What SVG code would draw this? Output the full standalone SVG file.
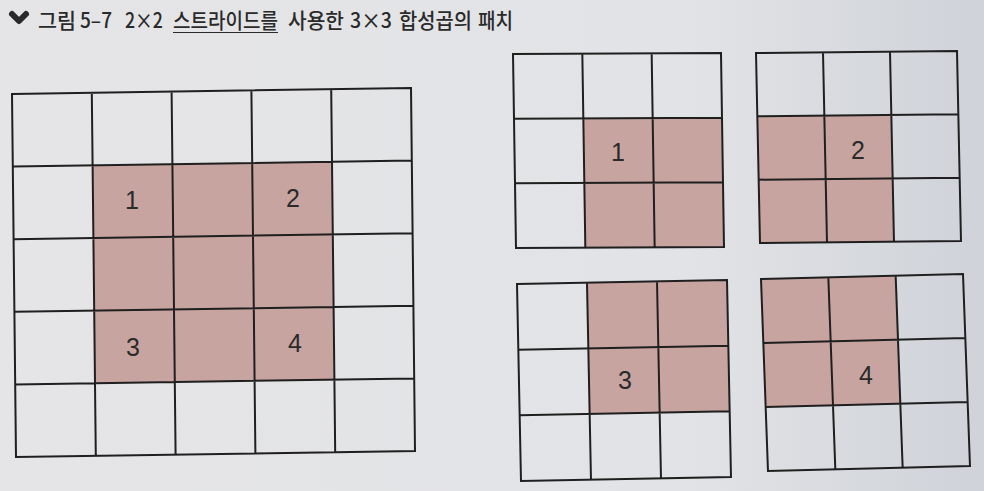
<svg xmlns="http://www.w3.org/2000/svg" width="984" height="491" viewBox="0 0 984 491">
<defs>
<linearGradient id="page" x1="0" y1="0" x2="1" y2="0">
<stop offset="0" stop-color="#e5e5e7"/>
<stop offset="0.7" stop-color="#e2e3e6"/>
<stop offset="0.88" stop-color="#d6d9de"/>
<stop offset="1" stop-color="#cfd3d9"/>
</linearGradient>
<style>
.shade{fill:#c8a4a1;stroke:none}
.ln{fill:none;stroke:#1f1f1f;stroke-width:2;vector-effect:non-scaling-stroke}
.lbl{font-family:"Liberation Sans",Arial,sans-serif;font-size:25px;fill:#2a2a2a;text-anchor:middle}
.title{font-family:"Noto Sans CJK KR","Noto Sans",sans-serif;font-size:21px;font-weight:500;fill:#2a2a2a}
</style>
</defs>
<rect width="984" height="491" fill="url(#page)"/>

<g id="title">
<polyline points="12,14 19,21 26,14" fill="none" stroke="#2a2a2a" stroke-width="6" stroke-linecap="round" stroke-linejoin="round"/>
<text class="title" x="38" y="28" textLength="38" lengthAdjust="spacingAndGlyphs">그림</text>
<text class="title" x="80" y="28" textLength="32" lengthAdjust="spacingAndGlyphs">5–7</text>
<text class="title" x="125" y="28" textLength="38" lengthAdjust="spacingAndGlyphs">2×2</text>
<text class="title" x="173" y="28" textLength="105" lengthAdjust="spacingAndGlyphs">스트라이드를</text>
<text class="title" x="288" y="28" textLength="56" lengthAdjust="spacingAndGlyphs">사용한</text>
<text class="title" x="350" y="28" textLength="42" lengthAdjust="spacingAndGlyphs">3×3</text>
<text class="title" x="399" y="28" textLength="73" lengthAdjust="spacingAndGlyphs">합성곱의</text>
<text class="title" x="478" y="28" textLength="35" lengthAdjust="spacingAndGlyphs">패치</text>
<line x1="173" y1="32.5" x2="278" y2="32.5" stroke="#2a2a2a" stroke-width="1.2"/>
</g>

<g id="input-grid">
<g transform="matrix(79.8,-1.2,0.8,72.6,12,94)">
<rect class="shade" x="1" y="1" width="3" height="3"/>
<path class="ln" d="M0,0H5V5H0Z M1,0V5 M2,0V5 M3,0V5 M4,0V5 M0,1H5 M0,2H5 M0,3H5 M0,4H5"/>
</g>
<text class="lbl" x="132" y="209">1</text>
<text class="lbl" x="293" y="207">2</text>
<text class="lbl" x="133" y="356">3</text>
<text class="lbl" x="295" y="352">4</text>
</g>

<g id="patch-1">
<g transform="matrix(69.33,-0.33,1,64.67,513,54)">
<rect class="shade" x="1" y="1" width="2" height="2"/>
<path class="ln" d="M0,0H3V3H0Z M1,0V3 M2,0V3 M0,1H3 M0,2H3"/>
</g>
<text class="lbl" x="618" y="161">1</text>
</g>

<g id="patch-2">
<g transform="matrix(67,-0.67,1.33,63.33,756,53)">
<rect class="shade" x="0" y="1" width="2" height="2"/>
<path class="ln" d="M0,0H3V3H0Z M1,0V3 M2,0V3 M0,1H3 M0,2H3"/>
</g>
<text class="lbl" x="858" y="159">2</text>
</g>

<g id="patch-3">
<g transform="matrix(70,-1.33,1.33,65.67,517,284)">
<rect class="shade" x="1" y="0" width="2" height="2"/>
<path class="ln" d="M0,0H3V3H0Z M1,0V3 M2,0V3 M0,1H3 M0,2H3"/>
</g>
<text class="lbl" x="625" y="389">3</text>
</g>

<g id="patch-4">
<g transform="matrix(67.33,-1.67,2.33,64,761,279)">
<rect class="shade" x="0" y="0" width="2" height="2"/>
<path class="ln" d="M0,0H3V3H0Z M1,0V3 M2,0V3 M0,1H3 M0,2H3"/>
</g>
<text class="lbl" x="866" y="384">4</text>
</g>
</svg>
